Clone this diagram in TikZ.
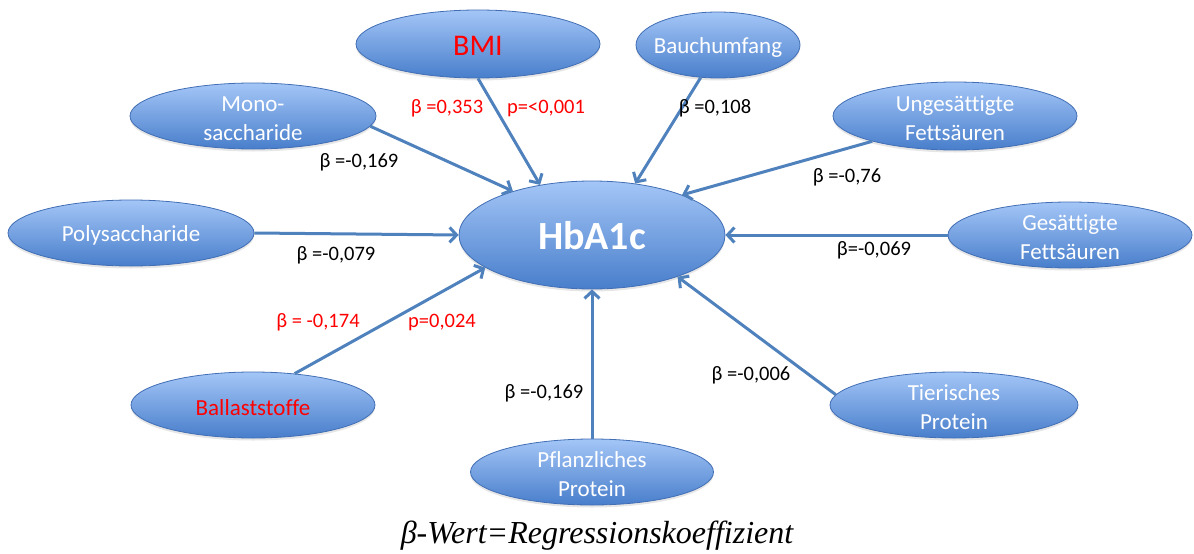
\documentclass[tikz,border=0pt]{standalone}
\usepackage{fontspec}
\setmainfont{Carlito}[Ligatures=NoCommon]
\newfontfamily\footfont{Liberation Serif}
\usetikzlibrary{shapes.geometric,arrows.meta,shadows}
\definecolor{topc}{RGB}{164,198,247}
\definecolor{botc}{RGB}{72,126,203}
\definecolor{bord}{RGB}{65,110,180}
\definecolor{linec}{RGB}{79,129,189}
\definecolor{redc}{RGB}{255,0,0}
\tikzset{
  blob/.style={ellipse, minimum width=244pt, minimum height=66pt, inner sep=0pt,
    draw=bord, line width=0.8pt, top color=topc, bottom color=botc,
    drop shadow={opacity=0.2, shadow xshift=0pt, shadow yshift=-2.5pt}},
  intext/.style={text=white, align=center, font=\fontsize{23}{29}\selectfont, yshift=-2.5pt},
  conn/.style={line width=3pt, draw=linec, -{Straight Barb[length=7pt,width=15pt]}},
  val/.style={font=\fontsize{20.5}{24}\selectfont, text=black, inner sep=0pt},
  redval/.style={val, text=redc},
}
\begin{document}
\begin{tikzpicture}[x=1pt,y=-1pt]
\useasboundingbox (0,0) rectangle (1194,554);
% centre node
\node[blob, minimum width=266pt, minimum height=108pt,
  label={[text=white, font=\fontsize{40}{44}\selectfont\bfseries, yshift=-1pt]center:HbA1c}] (hb) at (592,235) {};
% outer nodes
\node[blob, minimum height=68pt, label={[text=redc, font=\fontsize{30}{34}\selectfont, yshift=-2pt]center:BMI}] (bmi) at (478,44) {};
\node[blob, minimum width=164pt, label={[intext]center:Bauchumfang}] (bauch) at (718,45) {};
\node[blob, minimum width=246pt, label={[intext]center:{Mono-\\saccharide}}] (mono) at (253,116) {};
\node[blob, minimum width=246pt, label={[intext]center:Polysaccharide}] (poly) at (131,233) {};
\node[blob, minimum height=68pt, label={[intext]center:{Ungesättigte\\Fettsäuren}}] (ung) at (955,116) {};
\node[blob, label={[intext]center:{Gesättigte\\Fettsäuren}}] (ges) at (1070,235) {};
\node[blob, label={[intext, text=redc]center:Ballaststoffe}] (ball) at (253,405) {};
\node[blob, minimum width=243pt, label={[intext]center:{Pflanzliches\\Protein}}] (pfl) at (592,472) {};
\node[blob, minimum width=248pt, label={[intext]center:{Tierisches\\Protein}}] (tier) at (954,405) {};
% connectors
\draw[conn] (bmi.south) -- (hb.136);
\draw[conn] (bauch.-118) -- (hb.50);
\draw[conn] (mono.-5) -- (hb.151);
\draw[conn] (poly.east) -- (hb.180);
\draw[conn] (ung.-163) -- (hb.24);
\draw[conn] (ges.west) -- (hb.0);
\draw[conn] (ball.37) -- (hb.-163);
\draw[conn] (pfl.north) -- (hb.270);
\draw[conn] (tier.175) -- (hb.-26);
% values
\node[redval] (v1) at (447,108) {β =0,353};
\node[redval] (p1) at (546,108) {p=<0,001};
\node[val] (v2) at (715,108) {β =0,108};
\node[val] (v3) at (359,162) {β =-0,169};
\node[val] (v4) at (336,255) {β =-0,079};
\node[val] (v5) at (847,177) {β =-0,76};
\node[val] (v6) at (874,250) {β=-0,069};
\node[redval] (v7) at (318,322) {β = -0,174};
\node[redval] (p7) at (442,322) {p=0,024};
\node[val] (v8) at (544,393) {β =-0,169};
\node[val] (v9) at (751,375) {β =-0,006};
% footer
\node[anchor=base, inner sep=0pt, font=\footfont\itshape\fontsize{32}{36}\selectfont] (foot) at (597,543) {β-Wert=Regressionskoeffizient};
\end{tikzpicture}
\end{document}
